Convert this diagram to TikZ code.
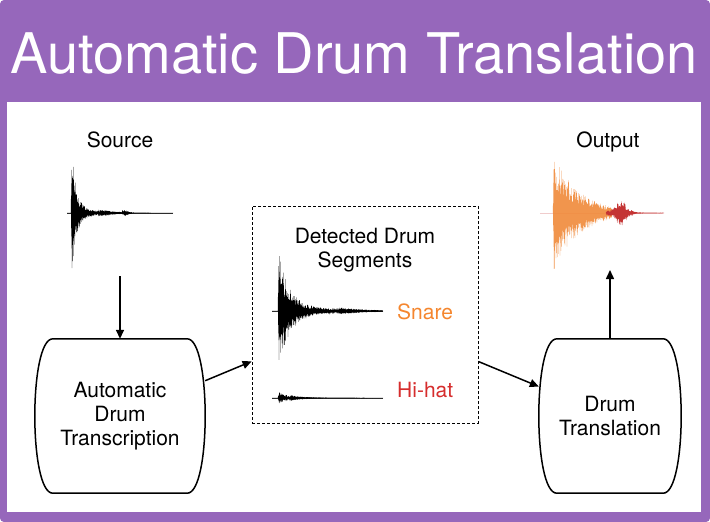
\documentclass[tikz,border=0pt]{standalone}
\usepackage{fontspec}
\setmainfont{TeX Gyre Heros}
\usetikzlibrary{arrows.meta, positioning, calc}
\definecolor{framepurple}{RGB}{150,103,187}
\definecolor{snareorange}{RGB}{245,134,46}
\definecolor{hatred}{RGB}{214,45,45}
\definecolor{outorange}{RGB}{240,138,58}
\definecolor{outred}{RGB}{196,52,52}

\begin{document}
\begin{tikzpicture}[
    x=1pt, y=-1pt,
    txt/.style={font=\fontsize{21}{24}\selectfont, align=center, inner sep=0pt},
    box/.style={rectangle, minimum width=170pt, minimum height=154pt, align=center, font=\fontsize{21}{24}\selectfont},
    outline/.style={line width=1.5pt},
    arrow/.style={-{Triangle[length=9pt, width=8pt]}, line width=1.5pt},
    wave/.style={line width=0.4pt},
    baseline axis/.style={black!80, line width=0.6pt},
    declare function={hit(\t,\a,\k)=(\t>0)*\a*min(\t/0.75,1)*exp(-abs(\t)/\k);
                      bump(\t,\a,\w)=\a*exp(-(\t/\w)*(\t/\w));
                      jit(\t)=(1-2*mod(round(4*\t),2))*(0.4+0.6*rnd);}
]
\pgfmathsetseed{3}
% frame and title
\fill[framepurple, rounded corners=4pt] (0,0) rectangle (710,522);
\fill[white] (7,102) rectangle (701,512);
\useasboundingbox (0,0) rectangle (710,522);
\node[font=\fontsize{56}{60}\selectfont, text=white, anchor=base] (title) at (354,73) {Automatic Drum Translation};

% source
\node[txt, anchor=base] (source) at (120,147) {Source};
\draw[baseline axis] (67,213) -- (173,213);
\draw[wave] plot[domain=67:173, samples=425] (\x, {213+jit(\x)*(hit(\x-71,64,4)+hit(\x-71,12,15)+hit(\x-122,3.5,3))});
\coordinate (srcwave) at (120,276);

% processing boxes
\node[box] (adt) at (120,416) {Automatic\\Drum\\Transcription};
\node[box, minimum width=142pt] (dt) at (610,416) {Drum\\Translation};
\foreach \n in {adt, dt}
  \draw[outline] ($(\n.north west)+(18,0)$) -- ($(\n.north east)+(-18,0)$)
    .. controls ($(\n.north east)+(6,0)$) and ($(\n.south east)+(6,0)$) .. ($(\n.south east)+(-18,0)$)
    -- ($(\n.south west)+(18,0)$)
    .. controls ($(\n.south west)+(-6,0)$) and ($(\n.north west)+(-6,0)$) .. cycle;

% detected segments
\node[draw, dash pattern=on 3pt off 2pt, line width=0.8pt, minimum width=226pt, minimum height=217pt] (seg) at (365,314.5) {};
\node[txt, anchor=north, below=22pt of seg.north] (segtitle) {Detected Drum\\Segments};
\draw[baseline axis] (272,311) -- (383,311);
\draw[wave] plot[domain=272:383, samples=445] (\x, {311+jit(\x)*(hit(\x-278,50,9)+hit(\x-278,14,28))});
\node[txt, anchor=base west, text=snareorange] (snare) at (397,319) {Snare};
\draw[baseline axis] (272,398) -- (383,398);
\draw[wave] plot[domain=272:383, samples=445] (\x, {398+jit(\x)*(hit(\x-278,6,6)+hit(\x-278,1,30))});
\node[txt, anchor=base west, text=hatred] (hihat) at (397,397) {Hi-hat};

% output
\node[txt, anchor=base] (output) at (608,147) {Output};
\draw[outred!25, line width=0.6pt] (540,213) -- (663,213);
\draw[wave, outorange, opacity=0.9] plot[domain=553:612, samples=237] (\x, {213+jit(\x)*hit(\x-553,60,26)});
\draw[wave, outred] plot[domain=606:664, samples=233] (\x, {213+jit(\x)*(bump(\x-621,12,7)+hit(\x-606,2.5,15))});
\coordinate (outwave) at (610,270);

\draw[arrow] (srcwave) -- (adt);
\draw[arrow] (adt) -- (seg);
\draw[arrow] (seg) -- (dt);
\draw[arrow] (dt) -- (outwave);
\end{tikzpicture}
\end{document}
